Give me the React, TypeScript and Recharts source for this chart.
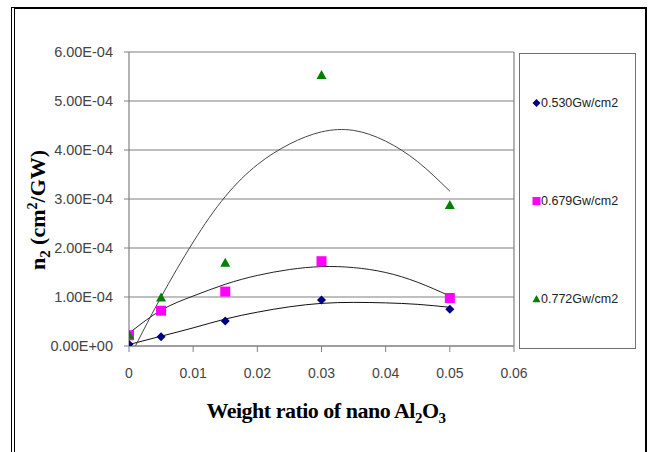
import React from 'react';
import {
  ComposedChart,
  Scatter,
  Line,
  XAxis,
  YAxis,
  CartesianGrid,
  ReferenceLine,
  Legend,
} from 'recharts';

const GRID = '#808080';
const NAVY = '#000080';
const MAGENTA = '#ff00ff';
const GREEN = '#008000';

// measured points
const xValues = [0, 0.005, 0.015, 0.03, 0.05];
const n2At530 = [3.5e-6, 1.9e-5, 5.1e-5, 9.4e-5, 7.5e-5];
const n2At679 = [2.2e-5, 7.2e-5, 1.11e-4, 1.73e-4, 9.8e-5];
const n2At772 = [2.3e-5, 9.9e-5, 1.7e-4, 5.53e-4, 2.88e-4];

// trendlines
const trendX = [0, 0.005, 0.01, 0.015, 0.02, 0.025, 0.03, 0.035, 0.04, 0.045, 0.05];
const trend530 = [3e-6, 2.0e-5, 3.7e-5, 5.5e-5, 6.9e-5, 8.0e-5, 8.7e-5, 8.9e-5, 8.8e-5, 8.5e-5, 7.9e-5];
const trend679 = [2.6e-5, 7.3e-5, 1.02e-4, 1.26e-4, 1.44e-4, 1.56e-4, 1.62e-4, 1.6e-4, 1.5e-4, 1.3e-4, 1.02e-4];
const trend772X = [0.001, 0.005, 0.01, 0.015, 0.02, 0.025, 0.03, 0.035, 0.04, 0.045, 0.05];
const trend772 = [0, 1.0e-4, 2.12e-4, 3.05e-4, 3.7e-4, 4.12e-4, 4.37e-4, 4.4e-4, 4.18e-4, 3.76e-4, 3.16e-4];

const xTicks = [0, 0.01, 0.02, 0.03, 0.04, 0.05, 0.06];
const xTickLabels = ['0', '0.01', '0.02', '0.03', '0.04', '0.05', '0.06'];
const yTicks = [0, 1e-4, 2e-4, 3e-4, 4e-4, 5e-4, 6e-4];
const yTickLabels = ['0.00E+00', '1.00E-04', '2.00E-04', '3.00E-04', '4.00E-04', '5.00E-04', '6.00E-04'];

const seriesNames = ['0.530Gw/cm2', '0.679Gw/cm2', '0.772Gw/cm2'];

const toPoints = (xs: number[], ys: number[]) => xs.map((x, i) => ({ x, y: ys[i] }));

function Diamond({ cx, cy, r = 4.5 }: any) {
  if (cx == null || cy == null) return null;
  return <polygon points={`${cx},${cy - r} ${cx + r},${cy} ${cx},${cy + r} ${cx - r},${cy}`} fill={NAVY} />;
}

function Square({ cx, cy, r = 5 }: any) {
  if (cx == null || cy == null) return null;
  return <rect x={cx - r} y={cy - r} width={r * 2} height={r * 2} fill={MAGENTA} />;
}

function Triangle({ cx, cy, r = 5 }: any) {
  if (cx == null || cy == null) return null;
  return <polygon points={`${cx},${cy - r} ${cx + r},${cy + r * 0.8} ${cx - r},${cy + r * 0.8}`} fill={GREEN} />;
}

const markers = [Diamond, Square, Triangle];

function LegendBox() {
  return (
    <div
      style={{
        width: 117,
        height: 296,
        boxSizing: 'border-box',
        border: '1px solid #707070',
        background: '#fff',
        display: 'flex',
        flexDirection: 'column',
        justifyContent: 'space-around',
        fontFamily: '"Liberation Sans", Arial, sans-serif',
        fontSize: 12.5,
        color: '#222',
      }}
    >
      {seriesNames.map((name, i) => {
        const Mark = markers[i];
        return (
          <div key={name} style={{ display: 'flex', alignItems: 'center', paddingLeft: 12 }}>
            <svg width={9} height={10}>
              <Mark cx={4.5} cy={5} r={4} />
            </svg>
            <span>{name}</span>
          </div>
        );
      })}
    </div>
  );
}

function XTitle() {
  return (
    <text
      x={326}
      y={418}
      textAnchor="middle"
      fontFamily='"Liberation Serif", "Times New Roman", serif'
      fontWeight="bold"
      fontSize={22}
      letterSpacing={-0.5}
      fill="#000"
    >
      Weight ratio of nano Al
      <tspan fontSize={15} dy={5}>2</tspan>
      <tspan dy={-5}>O</tspan>
      <tspan fontSize={15} dy={5}>3</tspan>
    </text>
  );
}

function YTitle() {
  return (
    <text
      x={45}
      y={210}
      transform="rotate(-90, 45, 210)"
      textAnchor="middle"
      fontFamily='"Liberation Serif", "Times New Roman", serif'
      fontWeight="bold"
      fontSize={22}
      fill="#000"
    >
      n
      <tspan fontSize={15} dy={5}>2</tspan>
      <tspan dy={-5}> (cm</tspan>
      <tspan fontSize={14} dy={-8}>2</tspan>
      <tspan dy={8}>/GW)</tspan>
    </text>
  );
}

export default function App() {
  return (
    <div style={{ position: 'absolute', left: 0, top: 0, width: 649, height: 452, background: '#fff', overflow: 'hidden' }}>
      <div
        style={{
          position: 'absolute',
          left: 11,
          top: 7,
          width: 630,
          height: 480,
          borderTop: '2px solid #000',
          borderRight: '2px solid #000',
          borderLeft: '4px double #000',
        }}
      />
      <div style={{ position: 'absolute', left: 0, top: 0 }}>
        <ComposedChart width={649} height={452} margin={{ top: 52, right: 135, bottom: 76, left: 69 }}>
          <CartesianGrid horizontal vertical={false} stroke={GRID} strokeWidth={1.2} />
          <XAxis
            type="number"
            dataKey="x"
            domain={[0, 0.06]}
            ticks={xTicks}
            tickFormatter={(_v: number, i: number) => xTickLabels[i]}
            axisLine={{ stroke: GRID, strokeWidth: 1.2 }}
            tickLine={{ stroke: GRID }}
            tickSize={6}
            tickMargin={16}
            tick={{ fontSize: 14, fill: '#444', fontFamily: '"Liberation Sans", Arial, sans-serif' }}
            allowDataOverflow
            label={{ content: () => <XTitle /> }}
          />
          <YAxis
            type="number"
            dataKey="y"
            width={60}
            domain={[0, 6e-4]}
            ticks={yTicks}
            tickFormatter={(_v: number, i: number) => yTickLabels[i]}
            axisLine={{ stroke: GRID, strokeWidth: 1.2 }}
            tickLine={{ stroke: GRID }}
            tickSize={5}
            tickMargin={11}
            tick={{ fontSize: 14.5, fill: '#444', fontFamily: '"Liberation Sans", Arial, sans-serif' }}
            allowDataOverflow
            label={{ content: () => <YTitle /> }}
          />
          <ReferenceLine x={0.06} stroke={GRID} strokeWidth={1.2} />
          <Line
            data={toPoints(trendX, trend530)}
            dataKey="y"
            type="natural"
            stroke="#111"
            strokeWidth={1}
            dot={false}
            legendType="none"
            isAnimationActive={false}
          />
          <Line
            data={toPoints(trendX, trend679)}
            dataKey="y"
            type="natural"
            stroke="#222"
            strokeWidth={1}
            dot={false}
            legendType="none"
            isAnimationActive={false}
          />
          <Line
            data={toPoints(trend772X, trend772)}
            dataKey="y"
            type="natural"
            stroke="#444"
            strokeWidth={1}
            dot={false}
            legendType="none"
            isAnimationActive={false}
          />
          <Scatter name={seriesNames[0]} data={toPoints(xValues, n2At530)} fill={NAVY} shape={<Diamond />} isAnimationActive={false} />
          <Scatter name={seriesNames[1]} data={toPoints(xValues, n2At679)} fill={MAGENTA} shape={<Square />} isAnimationActive={false} />
          <Scatter name={seriesNames[2]} data={toPoints(xValues, n2At772)} fill={GREEN} shape={<Triangle />} isAnimationActive={false} />
          <Legend
            layout="vertical"
            align="center"
            verticalAlign="middle"
            content={() => <LegendBox />}
            wrapperStyle={{ left: 519, top: 53, width: 117, height: 296 }}
          />
        </ComposedChart>
      </div>
    </div>
  );
}
